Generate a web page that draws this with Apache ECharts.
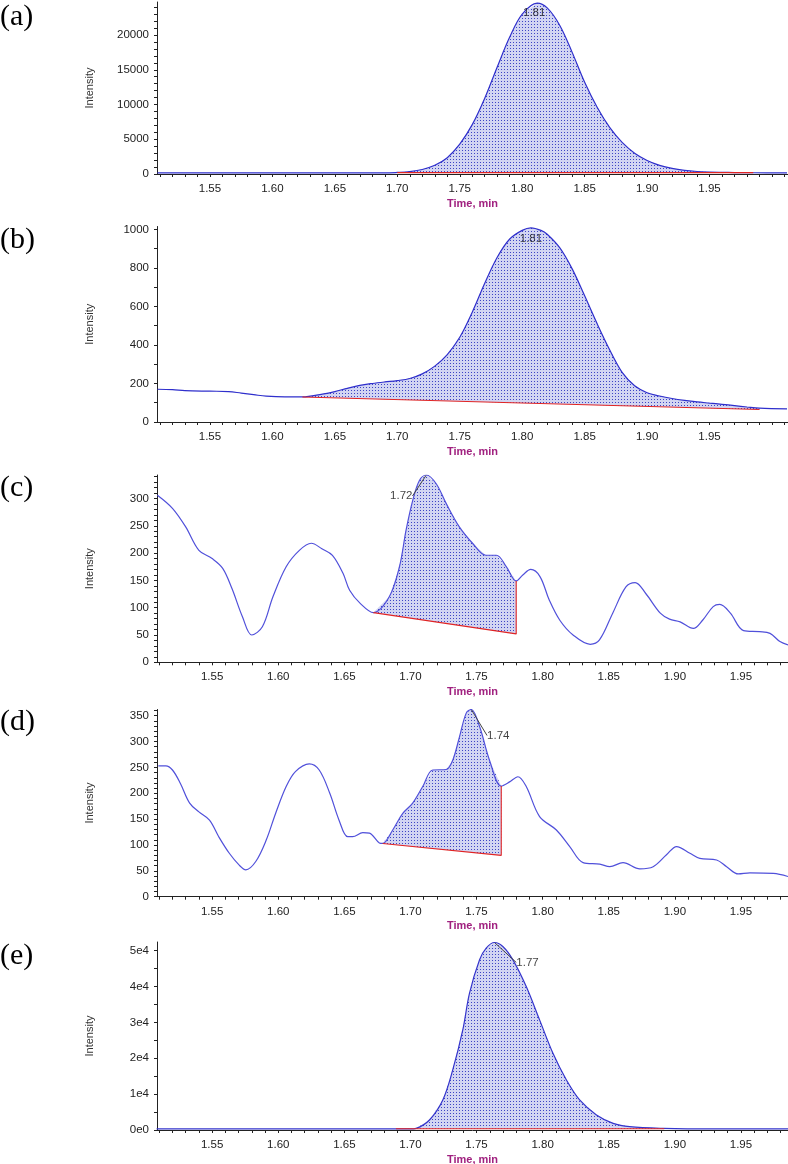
<!DOCTYPE html>
<html><head><meta charset="utf-8">
<script src="https://cdn.jsdelivr.net/npm/echarts@6/dist/echarts.min.js"></script>
<style>html,body{margin:0;padding:0;background:#fff}#c{width:788px;height:1164px}</style>
</head><body><div id="c"></div>
<script>
// ================= DATA =================
// (a)
const timeA = [1.508,1.55,1.60,1.65,1.69,1.70,1.71,1.72,1.73,1.74,1.75,1.76,1.77,1.78,1.79,1.80,1.812,1.82,1.83,1.84,1.85,1.86,1.87,1.88,1.89,1.90,1.91,1.92,1.93,1.94,1.95,1.96,1.97,1.985,2.012];
const intA  = [150,150,150,150,150,220,350,650,1250,2350,4300,7100,10900,15400,19700,23000,24600,23900,21400,17500,13200,9600,6700,4550,3000,1950,1250,800,520,360,280,240,210,180,150];
const baseTimeA = [1.70, 1.985];
const baseIntA  = [200, 200];
const peakA = {t: 1.812, v: 24600, label: '1.81'};

// (b)
const timeB = [1.508,1.52,1.53,1.55,1.565,1.575,1.585,1.595,1.61,1.624,1.64,1.65,1.66,1.67,1.68,1.69,1.70,1.71,1.72,1.73,1.74,1.75,1.76,1.77,1.78,1.79,1.80,1.807,1.815,1.82,1.83,1.84,1.85,1.86,1.87,1.88,1.89,1.90,1.91,1.92,1.93,1.94,1.95,1.96,1.97,1.98,1.99,2.012];
const intB  = [170,168,163,160,158,150,142,134,130,130,145,158,175,190,200,208,215,226,250,290,350,440,570,720,855,950,995,1008,995,975,905,795,655,510,375,258,188,152,135,122,112,104,98,92,85,78,72,68];
const baseTimeB = [1.624, 1.99];
const baseIntB  = [130, 65];
const peakB = {t: 1.807, v: 1008, label: '1.81'};

// (c)
const timeC = [1.5086,1.520,1.530,1.540,1.550,1.558,1.565,1.573,1.580,1.588,1.596,1.606,1.616,1.625,1.633,1.641,1.649,1.654,1.662,1.672,1.684,1.6917,1.6967,1.7018,1.7068,1.712,1.7195,1.727,1.737,1.747,1.757,1.765,1.7725,1.78,1.785,1.791,1.798,1.805,1.813,1.823,1.836,1.843,1.853,1.863,1.870,1.878,1.889,1.896,1.904,1.914,1.921,1.929,1.934,1.942,1.952,1.964,1.972,1.9795,1.9856];
const intC  = [306,282,248,205,190,172,135,83,50,65,120,175,205,218,208,196,163,132,108,91,120,175,242,297,333,343,327,291,248,218,196,196,175,149,160,170,157,114,77,50,33,41,90,138,146,126,90,79,74,62,77,102,106,90,58,56,53,38,32];
const baseTimeC = [1.672, 1.78, 1.78];
const baseIntC  = [91, 52, 149];
const peakC = {t: 1.712, v: 343, label: '1.72'};

// (d)
const timeD = [1.5093,1.515,1.520,1.526,1.533,1.540,1.548,1.555,1.563,1.5705,1.5755,1.583,1.591,1.598,1.606,1.613,1.6235,1.631,1.639,1.646,1.6525,1.6563,1.664,1.669,1.6765,1.679,1.6866,1.6942,1.7017,1.7093,1.7169,1.727,1.732,1.7371,1.7422,1.746,1.7523,1.7598,1.7687,1.775,1.7813,1.7876,1.7977,1.8104,1.8205,1.8306,1.8432,1.8508,1.8608,1.8735,1.8836,1.8937,1.9013,1.9114,1.9189,1.9316,1.9392,1.948,1.9568,1.9745,1.9856];
const intD  = [253,253,245,219,181,164,148,116,84,61,52,68,110,161,213,242,257,245,200,148,116,116,124,123,104,103,129,161,181,213,245,246,264,309,355,362,329,264,214,222,232,213,155,129,97,66,63,58,66,54,58,81,97,84,74,71,58,44,46,45,39];
const baseTimeD = [1.679, 1.7687, 1.7687];
const baseIntD  = [103, 80, 214];
const peakD = {t: 1.746, v: 362, label: '1.74'};

// (e)
const timeE = [1.508,1.53,1.60,1.66,1.70,1.7043,1.7144,1.7245,1.732,1.7396,1.7447,1.7523,1.7573,1.7636,1.7699,1.7775,1.7876,1.7977,1.8078,1.818,1.828,1.8407,1.8533,1.8659,1.8911,1.93,1.9856];
const intE  = [300,300,300,300,300,470,2790,8370,16740,27900,38140,47430,50700,52260,51140,47430,39980,30690,21400,13950,8370,4190,1860,930,470,300,300];
const baseTimeE = [1.689, 1.892];
const baseIntE  = [350, 350];
const peakE = {t: 1.7636, v: 52260, label: '1.77'};

// tick labels
const xTickLabels = [1.55,1.60,1.65,1.70,1.75,1.80,1.85,1.90,1.95];
const yTicksA = [0,5000,10000,15000,20000];
const yTicksB = [0,200,400,600,800,1000];
const yTicksC = [0,50,100,150,200,250,300];
const yTicksD = [0,50,100,150,200,250,300,350];
const yTicksE = [0,10000,20000,30000,40000,50000];
const yLabelsE = ['0e0','1e4','2e4','3e4','4e4','5e4'];
const panelLetters = ['(a)','(b)','(c)','(d)','(e)'];

// ================= LAYOUT / STYLE =================
function ticksBetween(a, b, step) {
  const out = [];
  const n0 = Math.ceil(a / step - 1e-6), n1 = Math.floor(b / step + 1e-6);
  for (let n = n0; n <= n1; n++) out.push(Math.round(n * step * 1e6) / 1e6);
  return out;
}
const panels = [
  {t: timeA, v: intA, bt: baseTimeA, bv: baseIntA, peak: peakA, top: 2,     height: 172,   xmin: 1.5076, xmax: 2.0128, ymax: 24750, yTicks: yTicksA, yMinor: 1000, lineColor: '#2f2fcc', lay: {dx: -3, dy: 10}, line: false, letterY: 17},
  {t: timeB, v: intB, bt: baseTimeB, bv: baseIntB, peak: peakB, top: 226.5, height: 195.5, xmin: 1.5076, xmax: 2.0128, ymax: 1015,  yTicks: yTicksB, yMinor: 100,  lineColor: '#2f2fcc', lay: {dx: 0, dy: 11},  line: false, letterY: 240},
  {t: timeC, v: intC, bt: baseTimeC, bv: baseIntC, peak: peakC, top: 475,   height: 187.3, xmin: 1.5083, xmax: 1.9856, ymax: 343,   yTicks: yTicksC, yMinor: 10,   lineColor: '#5050da', lay: {dx: -25, dy: 21}, line: true,  letterY: 488},
  {t: timeD, v: intD, bt: baseTimeD, bv: baseIntD, peak: peakD, top: 709.5, height: 187.2, xmin: 1.5083, xmax: 1.9856, ymax: 362,   yTicks: yTicksD, yMinor: 10,   lineColor: '#5050da', lay: {dx: 27, dy: 26},  line: true,  letterY: 722},
  {t: timeE, v: intE, bt: baseTimeE, bv: baseIntE, peak: peakE, top: 942,   height: 188,   xmin: 1.5083, xmax: 1.9856, ymax: 52400, yTicks: yTicksE, yMinor: 5000, lineColor: '#3535cc', lay: {dx: 33, dy: 20},  line: true,  letterY: 956, yLabels: yLabelsE}
];

// stipple pattern
const pc = document.createElement('canvas');
pc.width = 3; pc.height = 3;
const pg = pc.getContext('2d');
pg.fillStyle = '#d2d5f2'; pg.fillRect(0, 0, 3, 3);
pg.fillStyle = '#3d44c4'; pg.fillRect(0, 0, 1, 1);
const stipple = {image: pc, repeat: 'repeat'};

const FONT = 'Liberation Sans, Arial, sans-serif';
const grids = [], xAxes = [], yAxes = [], series = [], graphics = [];

panels.forEach((p, i) => {
  grids.push({left: 157, right: 0, top: p.top, height: p.height, containLabel: false, outerBoundsMode: 'none'});
  xAxes.push({
    type: 'value', gridIndex: i, min: p.xmin, max: p.xmax,
    axisLine: {show: true, onZero: false, lineStyle: {color: '#222', width: 1}},
    axisTick: {show: true, length: 3, customValues: ticksBetween(p.xmin, p.xmax, 0.01), lineStyle: {color: '#222'}},
    axisLabel: {customValues: xTickLabels, formatter: v => v.toFixed(2), margin: 9, color: '#222', fontSize: 11.5, fontFamily: FONT},
    splitLine: {show: false},
    name: 'Time, min', nameLocation: 'middle', nameGap: 24,
    nameTextStyle: {color: '#a0207f', fontWeight: 'bold', fontSize: 11, fontFamily: FONT}
  });
  const yl = p.yLabels;
  yAxes.push({
    type: 'value', gridIndex: i, min: 0, max: p.ymax,
    axisLine: {show: true, onZero: false, lineStyle: {color: '#222', width: 1}},
    axisTick: {show: true, length: 3, customValues: ticksBetween(0, p.ymax, p.yMinor), lineStyle: {color: '#222'}},
    axisLabel: {customValues: p.yTicks, formatter: v => yl ? yl[p.yTicks.indexOf(v)] : String(v), margin: 8, color: '#222', fontSize: 11.5, fontFamily: FONT},
    splitLine: {show: false},
    name: 'Intensity', nameLocation: 'middle', nameGap: 62,
    nameTextStyle: {color: '#333', fontSize: 11, fontFamily: FONT}
  });
  // stippled peak area between curve and baseline
  series.push({
    type: 'custom', xAxisIndex: i, yAxisIndex: i, silent: true, z: 1, clip: true,
    data: [[p.bt[0], p.bv[0]]],
    renderItem: function (params, api) {
      const pts = [];
      const s = p.bt[0], e = p.bt[1];
      for (let k = 0; k < p.t.length; k++) {
        if (p.t[k] >= s - 1e-9 && p.t[k] <= e + 1e-9) pts.push(api.coord([p.t[k], p.v[k]]));
      }
      pts.push(api.coord([p.bt[1], p.bv[1]]));
      pts.push(api.coord([p.bt[0], p.bv[0]]));
      return {type: 'polygon', shape: {points: pts}, style: {fill: stipple, stroke: null}};
    }
  });
  // chromatogram trace
  series.push({
    type: 'line', xAxisIndex: i, yAxisIndex: i, silent: true, z: 3,
    data: p.t.map((t, k) => [t, p.v[k]]),
    symbol: 'none', smooth: 0.35,
    lineStyle: {color: p.lineColor, width: 1.2}
  });
  // integration baseline
  series.push({
    type: 'line', xAxisIndex: i, yAxisIndex: i, silent: true, z: 4,
    data: p.bt.map((t, k) => [t, p.bv[k]]),
    symbol: 'none',
    lineStyle: {color: '#e02424', width: 1.1}
  });
  // peak annotation
  series.push({
    type: 'scatter', xAxisIndex: i, yAxisIndex: i, silent: true, z: 5,
    data: [[p.peak.t, p.peak.v]],
    symbolSize: 1, itemStyle: {color: 'rgba(0,0,0,0)'},
    label: {show: true, position: 'inside', formatter: p.peak.label, color: '#111', fontSize: 11.5, fontFamily: FONT},
    labelLayout: {dx: p.lay.dx, dy: p.lay.dy},
    labelLine: {show: p.line, lineStyle: {color: '#444', width: 1}}
  });
  graphics.push({
    type: 'text', x: 0, y: p.letterY,
    style: {text: panelLetters[i], font: '30px "Liberation Serif", "Times New Roman", serif', fill: '#000', verticalAlign: 'middle', align: 'left'}
  });
});

const chart = echarts.init(document.getElementById('c'), null, {renderer: 'canvas'});
chart.setOption({
  animation: false,
  backgroundColor: '#fff',
  grid: grids, xAxis: xAxes, yAxis: yAxes, series: series, graphic: graphics
});
</script>
</body></html>
